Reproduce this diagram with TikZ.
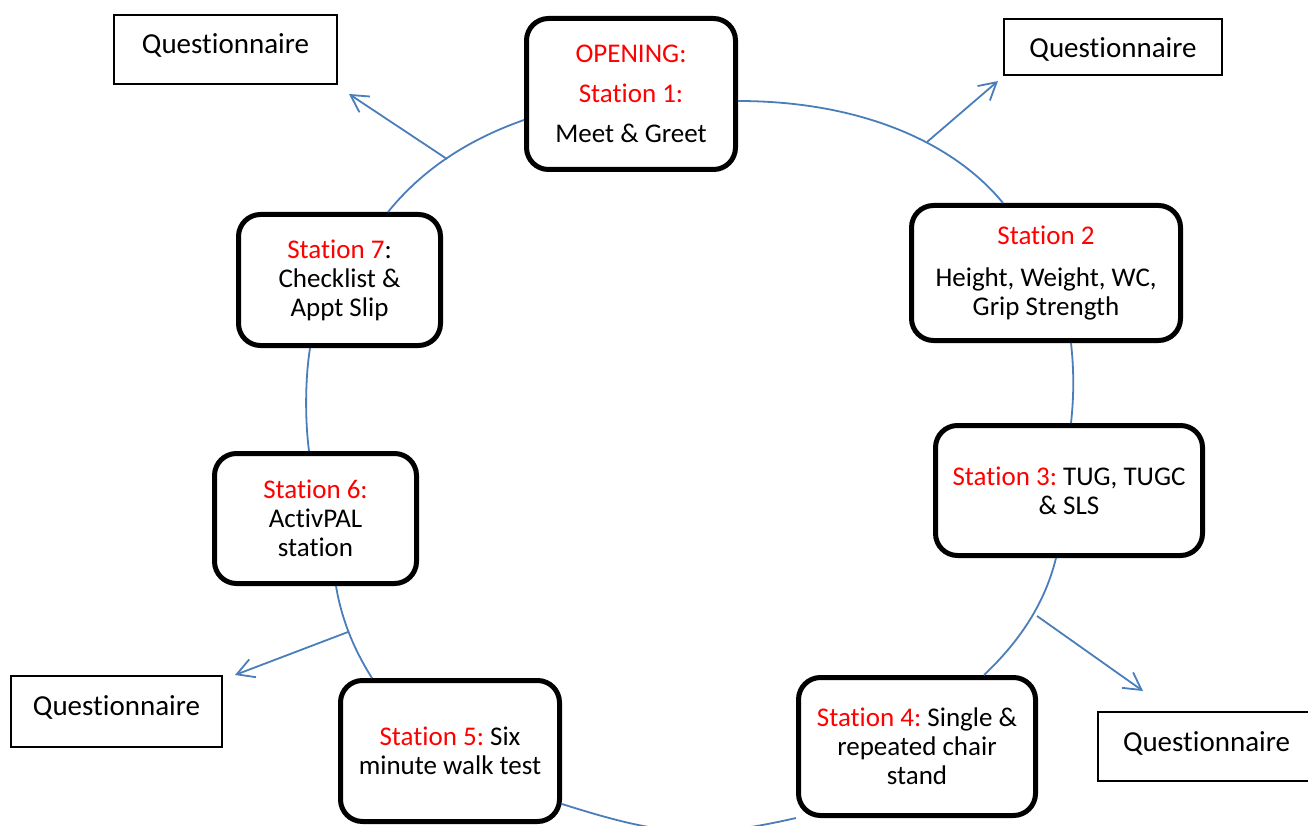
\documentclass[tikz,border=0pt]{standalone}
\usepackage{fontspec}
\setmainfont{Carlito}[Ligatures=NoCommon]
\usetikzlibrary{arrows.meta,calc}
\definecolor{wblue}{HTML}{4A7EBB}
\definecolor{wred}{HTML}{FF0000}
\newcommand{\redtxt}[1]{\textcolor{wred}{#1}}
\tikzset{
  stn/.style={draw=black, line width=5pt, rounded corners=22pt, align=center, inner sep=0pt, font=\fontsize{27}{29}\selectfont, text=black},
  qbox/.style={draw=black, line width=1.4pt, inner xsep=0pt, inner ysep=0pt, outer sep=0pt, anchor=north west, font=\fontsize{29}{31}\selectfont, text height=39pt},
  link/.style={draw=wblue, line width=1.8pt},
  outarrow/.style={link, -{Straight Barb[length=17pt,width=19pt]}},
}
\begin{document}
\frenchspacing
\begin{tikzpicture}[x=1pt,y=-1pt]
\useasboundingbox (0,0) rectangle (1308,826);
\clip (0,0) rectangle (1308,826);
\fill[white] (0,0) rectangle (1308,826);

% stations
\node[stn, minimum width=209pt, minimum height=151pt] (s1) at (631,94) {\redtxt{OPENING:}\\[11pt]\redtxt{Station 1:}\\[11pt]Meet \& Greet};
\node[stn, minimum width=269pt, minimum height=135pt] (s2) at (1046,273) {\redtxt{Station 2}\\[13pt]Height, Weight, WC,\\Grip Strength};
\node[stn, minimum width=267pt, minimum height=130pt] (s3) at (1069,490.5) {\redtxt{Station 3:} TUG, TUGC\\\& SLS};
\node[stn, minimum width=237pt, minimum height=138pt] (s4) at (917,746.5) {\redtxt{Station 4:} Single \&\\repeated chair\\stand};
\node[stn, minimum width=219pt, minimum height=141pt] (s5) at (450,751) {\redtxt{Station 5:} Six\\minute walk test};
\node[stn, minimum width=202pt, minimum height=130pt] (s6) at (315.5,518.5) {\redtxt{Station 6:}\\ActivPAL\\station};
\node[stn, minimum width=202pt, minimum height=131pt] (s7) at (339.5,280) {\redtxt{Station 7}:\\Checklist \&\\Appt Slip};

% questionnaires
\node[qbox, minimum width=223pt, text depth=30pt] (q1) at (114,15) {Questionnaire};
\node[qbox, minimum width=218pt, text depth=17pt] (q2) at (1004,19) {Questionnaire};
\node[qbox, minimum width=211pt, text depth=32pt] (q3) at (11,676) {Questionnaire};
\node[qbox, minimum width=217pt, text depth=30pt] (q4) at (1098,712) {Questionnaire};

% circle of connectors
\draw[link] ([yshift=-26pt]s1.west) .. controls (466.7,140) and (421.3,170.7) .. ([xshift=48.5pt]s7.north);
\draw[link] ([yshift=-7pt]s1.east) .. controls (860,101) and (953,142) .. ([xshift=-43pt]s2.north);
\draw[link] ([xshift=25pt]s2.south) .. controls (1074,370) and (1074,396) .. ([xshift=2pt]s3.north);
\draw[link] ([xshift=-13pt]s3.south) .. controls (1045.3,601.7) and (1021.3,639.7) .. ([xshift=67pt]s4.north);
\draw[link] (s4.south west) .. controls (700,840) and (660,835) .. ([yshift=-53pt]s5.east);
\draw[link] ([xshift=20.5pt]s6.south) .. controls (341.3,618) and (353.3,648.7) .. ([xshift=-78pt]s5.north);
\draw[link] ([xshift=-29.5pt]s7.south) .. controls (305,380) and (305,420) .. ([xshift=-6.5pt]s6.north);

% arrows to questionnaires
\coordinate (a1s) at (447,159);
\coordinate (a1e) at (349,94);
\coordinate (a2s) at (927,142);
\coordinate (a2e) at (998,81);
\coordinate (a3s) at (1037,616);
\coordinate (a3e) at (1143,691);
\coordinate (a4s) at (348,632);
\coordinate (a4e) at (235,675);
\draw[outarrow] (a1s) -- (a1e);
\draw[outarrow] (a2s) -- (a2e);
\draw[outarrow] (a3s) -- (a3e);
\draw[outarrow] (a4s) -- (a4e);
\end{tikzpicture}
\end{document}
